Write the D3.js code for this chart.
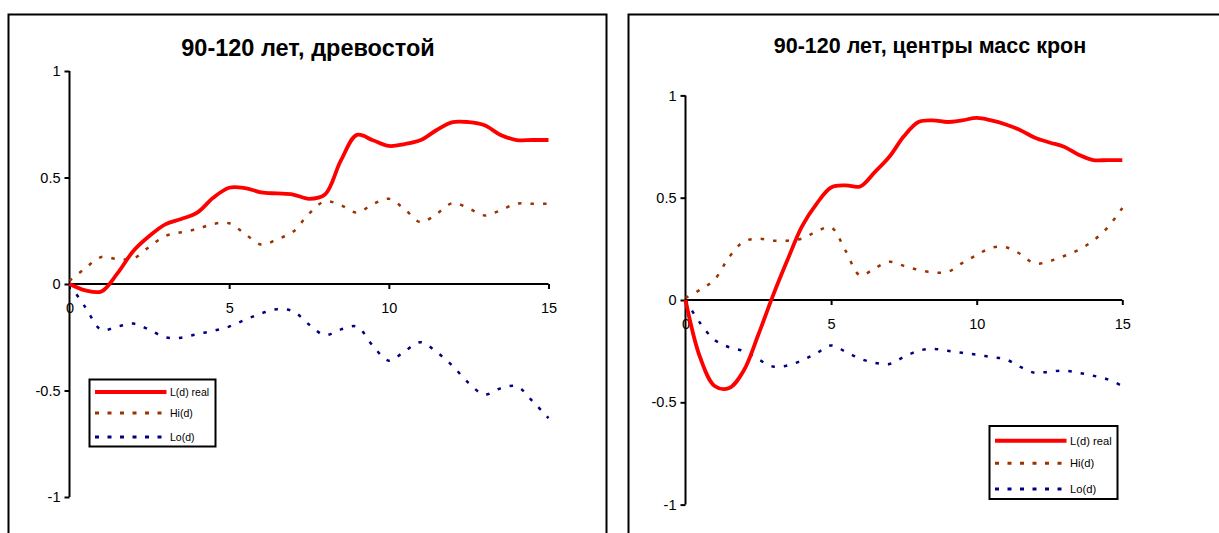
<!DOCTYPE html>
<html>
<head>
<meta charset="utf-8">
<script src="https://cdn.jsdelivr.net/npm/d3@7/dist/d3.min.js"></script>
<style>
  html, body { margin: 0; padding: 0; background: #fff; }
  svg { display: block; }
  text { font-family: "Liberation Sans", Arial, sans-serif; fill: #000; }
</style>
</head>
<body>
<svg id="chart" width="1219" height="533"></svg>
<script>
// Distance d (x axis), shared by all series
const distances = [0, 0.5, 1, 1.5, 2, 2.5, 3, 3.5, 4, 4.5, 5, 5.5, 6, 6.5, 7, 7.5,
                   8, 8.5, 9, 9.5, 10, 10.5, 11, 11.5, 12, 12.5, 13, 13.5, 14, 14.5, 15];

const seriesNames = ["L(d) real", "Hi(d)", "Lo(d)"];
const xTickValues = [0, 5, 10, 15];
const yTickValues = [1, 0.5, 0, -0.5, -1];
const yTickLabels = ["1", "0.5", "0", "-0.5", "-1"];

// Stand, 90-120 years
const standTitle = "90-120 лет, древостой";
const standL  = [0, -0.03, -0.035, 0.05, 0.155, 0.225, 0.28, 0.305, 0.335, 0.405, 0.452, 0.45, 0.43, 0.425, 0.42, 0.40,
                 0.42, 0.58, 0.70, 0.675, 0.648, 0.657, 0.676, 0.723, 0.76, 0.76, 0.745, 0.70, 0.676, 0.676, 0.676];
const standHi = [0.015, 0.075, 0.127, 0.117, 0.12, 0.175, 0.225, 0.243, 0.258, 0.282, 0.285, 0.235, 0.185, 0.21, 0.245, 0.33,
                 0.388, 0.37, 0.335, 0.375, 0.40, 0.35, 0.29, 0.33, 0.38, 0.355, 0.322, 0.346, 0.377, 0.377, 0.377];
const standLo = [0, -0.11, -0.215, -0.2, -0.186, -0.215, -0.25, -0.252, -0.235, -0.22, -0.2, -0.168, -0.138, -0.118, -0.128, -0.19,
                 -0.24, -0.213, -0.2, -0.29, -0.36, -0.315, -0.273, -0.32, -0.385, -0.465, -0.519, -0.49, -0.48, -0.55, -0.63];

// Crown centres of mass, 90-120 years
const crownTitle = "90-120 лет, центры масс крон";
const crownL  = [0, -0.28, -0.42, -0.43, -0.345, -0.17, 0.02, 0.195, 0.36, 0.47, 0.55, 0.56, 0.555, 0.625, 0.70, 0.80,
                 0.87, 0.878, 0.87, 0.878, 0.89, 0.878, 0.858, 0.83, 0.793, 0.77, 0.749, 0.71, 0.684, 0.684, 0.684];
const crownHi = [0.01, 0.05, 0.10, 0.21, 0.285, 0.30, 0.29, 0.29, 0.30, 0.335, 0.355, 0.24, 0.12, 0.155, 0.187, 0.167,
                 0.147, 0.135, 0.137, 0.18, 0.22, 0.255, 0.258, 0.225, 0.178, 0.19, 0.215, 0.245, 0.29, 0.355, 0.45];
const crownLo = [0, -0.112, -0.195, -0.231, -0.25, -0.29, -0.325, -0.32, -0.295, -0.26, -0.222, -0.253, -0.287, -0.307, -0.313, -0.278,
                 -0.248, -0.239, -0.248, -0.258, -0.267, -0.279, -0.29, -0.327, -0.356, -0.35, -0.345, -0.356, -0.37, -0.388, -0.42];

// Line styles per series
const styles = [
  { color: "#ff0000", width: 3.8, dash: null },
  { color: "#993300", width: 2.5, dash: "3.5,9" },
  { color: "#000080", width: 2.5, dash: "3.5,9" }
];

const svg = d3.select("#chart");
svg.append("rect").attr("width", 1219).attr("height", 533).attr("fill", "#fff");

function drawPanel(cfg) {
  const g = svg.append("g");

  // chart frame
  g.append("rect")
    .attr("x", cfg.frame.x).attr("y", cfg.frame.y)
    .attr("width", cfg.frame.w).attr("height", cfg.frame.h)
    .attr("fill", "#fff").attr("stroke", "#000").attr("stroke-width", 2);

  // title
  g.append("text")
    .attr("x", cfg.title.x).attr("y", cfg.title.y)
    .attr("text-anchor", "middle")
    .attr("font-size", cfg.title.size).attr("font-weight", "bold")
    .text(cfg.title.text);

  const x = d3.scaleLinear().domain([0, 15]).range([cfg.plot.x0, cfg.plot.x1]);
  const y = d3.scaleLinear().domain([-1, 1]).range([cfg.plot.yBot, cfg.plot.yTop]);

  // y axis
  const yAxis = d3.axisLeft(y)
    .tickValues(yTickValues)
    .tickFormat((d, i) => yTickLabels[i])
    .tickSize(5).tickPadding(4);
  const yg = g.append("g").attr("transform", `translate(${x(0)},0)`).call(yAxis);
  yg.select(".domain").attr("d", `M-0,${y(1)}V${y(-1)}`).attr("stroke-width", 2);
  yg.selectAll(".tick line").attr("stroke-width", 2);
  yg.selectAll(".tick text").attr("font-size", cfg.tickSize)
    .attr("font-family", "Liberation Sans, Arial, sans-serif");

  // x axis along y = 0
  const xAxis = d3.axisBottom(x)
    .tickValues(xTickValues)
    .tickFormat(d3.format("d"))
    .tickSize(5).tickPadding(cfg.xLabelPad);
  const xg = g.append("g").attr("transform", `translate(0,${y(0)})`).call(xAxis);
  xg.select(".domain").attr("d", `M${x(0)},0H${x(15)}`).attr("stroke-width", 2);
  xg.selectAll(".tick line").attr("stroke-width", 2);
  xg.selectAll(".tick text").attr("font-size", cfg.tickSize)
    .attr("font-family", "Liberation Sans, Arial, sans-serif");

  // series lines, smoothed
  const line = d3.line()
    .x((d, i) => x(distances[i]))
    .y(d => y(d))
    .curve(d3.curveCatmullRom.alpha(0.5));

  // draw dotted envelopes first, then the observed curve on top
  [1, 2, 0].forEach(k => {
    const p = g.append("path")
      .attr("d", line(cfg.series[k]))
      .attr("fill", "none")
      .attr("stroke", styles[k].color)
      .attr("stroke-width", styles[k].width)
      .attr("stroke-linejoin", "round");
    if (styles[k].dash) p.attr("stroke-dasharray", styles[k].dash);
  });

  // legend
  const L = cfg.legend;
  const lg = g.append("g").attr("transform", `translate(${L.x},${L.y})`);
  lg.append("rect")
    .attr("width", L.w).attr("height", L.h)
    .attr("fill", "#fff").attr("stroke", "#000").attr("stroke-width", 2);
  seriesNames.forEach((name, k) => {
    const ry = L.rows[k];
    const s = lg.append("line")
      .attr("x1", L.lineX0).attr("x2", L.lineX1)
      .attr("y1", ry).attr("y2", ry)
      .attr("stroke", styles[k].color)
      .attr("stroke-width", k === 0 ? 4 : 3);
    if (styles[k].dash) s.attr("stroke-dasharray", "4,8.5");
    lg.append("text")
      .attr("x", L.textX).attr("y", ry)
      .attr("dy", "0.35em")
      .attr("font-size", L.fontSize)
      .text(name);
  });
}

drawPanel({
  frame: { x: 8.5, y: 14.5, w: 598, h: 540 },
  title: { x: 308, y: 56, size: 23.5, text: standTitle },
  plot: { x0: 69.5, x1: 548.5, yTop: 71, yBot: 497 },
  tickSize: 14.5,
  xLabelPad: 14,
  series: [standL, standHi, standLo],
  legend: { x: 89.5, y: 379.5, w: 126, h: 67, lineX0: 5.5, lineX1: 77, rows: [12.5, 33.5, 57.5], textX: 80.5, fontSize: 10.5 }
});

drawPanel({
  frame: { x: 628.5, y: 14.5, w: 700, h: 540 },
  title: { x: 930, y: 53, size: 21.5, text: crownTitle },
  plot: { x0: 685.5, x1: 1122.3, yTop: 95.4, yBot: 504.6 },
  tickSize: 14.5,
  xLabelPad: 14,
  series: [crownL, crownHi, crownLo],
  legend: { x: 989.5, y: 426, w: 128, h: 73, lineX0: 5.5, lineX1: 77, rows: [14.7, 37.3, 63], textX: 80.5, fontSize: 11.2 }
});
</script>
</body>
</html>
